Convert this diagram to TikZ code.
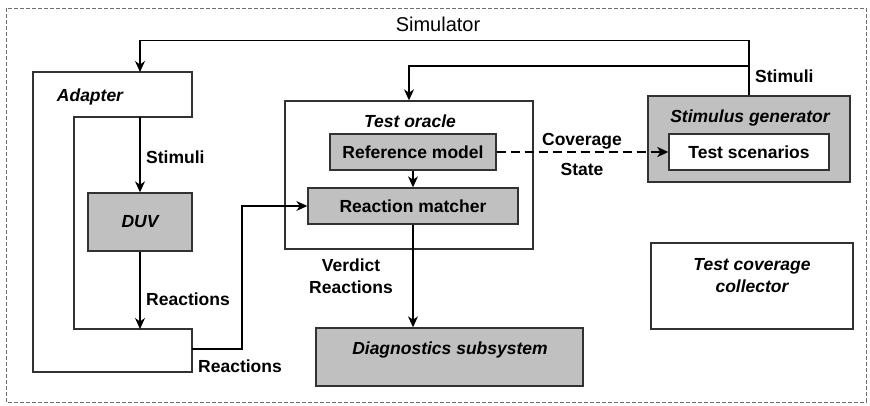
\documentclass[tikz,border=0pt]{standalone}
\usepackage{fontspec}
\setmainfont{Liberation Sans}
\usetikzlibrary{arrows.meta}
\definecolor{boxgray}{RGB}{192,192,192}
\definecolor{edgegray}{RGB}{50,50,50}
\definecolor{framegray}{RGB}{110,110,110}
\newcommand{\lblfont}{\fontsize{17.5}{21}\selectfont\bfseries}
\newcommand{\ttlfont}{\fontsize{17.5}{21}\selectfont\bfseries\itshape}
\tikzset{
  boxline/.style={draw=edgegray, line width=1.4pt},
  blockbox/.style={boxline, rectangle, inner sep=0pt, fill=white},
  graybox/.style={blockbox, fill=boxgray},
  lbl/.style={font=\lblfont, inner sep=0pt},
  ttl/.style={font=\ttlfont, inner sep=0pt},
  arr/.style={line width=1.3pt, -{Stealth[length=11pt,width=10pt,inset=3.5pt]}},
  dasharr/.style={line width=2.4pt, dash pattern=on 9pt off 5pt,
    -{Stealth[length=11pt,width=10pt,inset=3pt]}},
}
\begin{document}
\begin{tikzpicture}[x=1pt,y=-1pt]
\useasboundingbox (0,0) rectangle (870,405);

% simulator frame
\draw[framegray, line width=0.9pt, dash pattern=on 4pt off 2pt] (6,8) rectangle (866,402);
\node[font=\fontsize{20}{24}\selectfont, inner sep=0pt, anchor=base] (sim) at (438,31.5) {Simulator};

% adapter (C-shaped outline around the DUV)
\draw[boxline] (33,72) -- (192,72) -- (192,117) -- (74,117) -- (74,329)
  -- (192,329) -- (192,372) -- (33,372) -- cycle;
\node[ttl, anchor=base] (adlbl) at (90,101) {Adapter};
\coordinate (adTop) at (140,72);
\coordinate (adIn) at (140,117);
\coordinate (adBot) at (140,329);
\coordinate (adOut) at (192,349);

% device under verification
\node[graybox, minimum width=104pt, minimum height=58pt, font=\ttlfont] (duv) at (140,222) {DUV};

% test oracle
\node[blockbox, minimum width=248pt, minimum height=148pt] (oracle) at (409,175) {};
\node[ttl, anchor=base] (oraclelbl) at (410,127) {Test oracle};
\node[graybox, minimum width=166pt, minimum height=36pt, font=\lblfont] (ref) at (413,152) {Reference model};
\node[graybox, minimum width=210pt, minimum height=36pt, font=\lblfont] (matcher) at (413,206) {Reaction matcher};

% stimulus generator
\node[graybox, minimum width=202pt, minimum height=86pt] (sg) at (749,139) {};
\node[ttl, anchor=base] (sglbl) at (750,122) {Stimulus generator};
\node[blockbox, minimum width=160pt, minimum height=36pt, font=\lblfont] (ts) at (749,152) {Test scenarios};

% diagnostics subsystem
\node[graybox, minimum width=267pt, minimum height=58pt] (diag) at (449.5,357) {};
\node[ttl, anchor=base] (diaglbl) at (450,354) {Diagnostics subsystem};

% test coverage collector
\node[blockbox, minimum width=202pt, minimum height=86pt] (cov) at (752,286) {};
\node[ttl, anchor=base] (covlbl1) at (752,270) {Test coverage};
\node[ttl, anchor=base] (covlbl2) at (752,292) {collector};

% stimuli feedback from the generator
\coordinate (branch) at (749,66);
\draw[arr] (sg.north) -- ++(0,-55) -| (adTop);
\draw[arr] (branch) -| (oracle.north);
\node[lbl, anchor=base west] (stimlbl) at (755,82) {Stimuli};

% adapter to DUV and back
\draw[arr] (adIn) -- (duv.north);
\node[lbl, anchor=base west] (stimlbl2) at (146,163) {Stimuli};
\draw[arr] (duv.south) -- (adBot);
\node[lbl, anchor=base west] (reaclbl1) at (146,305) {Reactions};

% reactions to the matcher
\draw[arr] (adOut) -- ++(50,0) |- (matcher.west);
\node[lbl, anchor=base west] (reaclbl2) at (198,372) {Reactions};

% inside the oracle
\draw[arr] (ref.south) -- (matcher.north);

% coverage state to the scenarios
\draw[dasharr] (ref.east) -- (ts.west);
\node[lbl, anchor=base] (covstate1) at (582,145) {Coverage};
\node[lbl, anchor=base] (covstate2) at (582,175) {State};

% verdict to diagnostics
\draw[arr] (matcher.south) -- (matcher.south |- diag.north);
\node[lbl, anchor=base] (verdict1) at (351,271) {Verdict};
\node[lbl, anchor=base] (verdict2) at (351,293) {Reactions};
\end{tikzpicture}
\end{document}
